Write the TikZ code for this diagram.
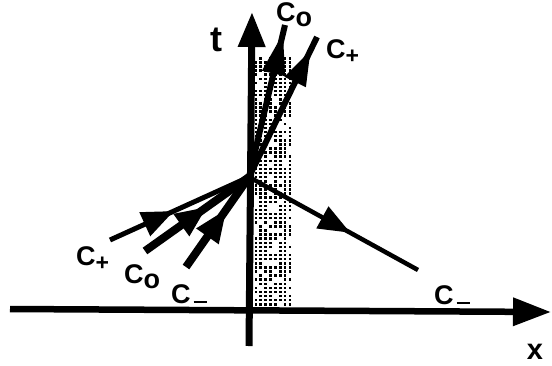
\documentclass[tikz,border=0pt]{standalone}
\usepackage{fontspec}
\setmainfont{Liberation Sans}
\usetikzlibrary{arrows.meta,decorations.markings}
\begin{document}
\begin{tikzpicture}[x=1pt,y=-1pt,
  head/.style n args={3}{postaction={decorate,decoration={markings,
     mark=at position #1 with {\arrow{Triangle[length=#2pt,width=#3pt]}}}}},
  lab/.style={font=\fontsize{27}{30}\bfseries\selectfont, inner sep=0pt, anchor=base west},
  dot/.style={fill=black},
  axis/.style={line width=6.5pt}]
\useasboundingbox (0,0) rectangle (552,365);
% shaded strip
\pgfmathsetseed{7}
\foreach \i in {0,...,7}
  \foreach \j in {0,...,60}{
    \pgfmathsetmacro{\r}{rnd}
    \ifdim\r pt<0.8pt
      \fill[dot] (254.5+4.9*\i, 57+4.1*\j) rectangle ++(2.5,2.5);
    \fi
  }
% axes
\coordinate (xs) at (10,309);
\coordinate (xe) at (551,312);
\coordinate (tb) at (249,346);
\coordinate (tt) at (252,12);
\draw[axis, -{Triangle[length=38pt,width=27pt]}] (xs) -- (xe);
\draw[axis, line width=7pt, -{Triangle[length=35pt,width=26pt]}] (tb) -- (tt);
% origin and ray ends
\coordinate (O) at (249,177);
\coordinate (c0top) at (285,25);
\coordinate (cptop) at (317,37);
\coordinate (cpleft) at (110,240);
\coordinate (c0left) at (145,251);
\coordinate (cmleft) at (186,267);
\coordinate (cmright) at (418,270);
\draw[line width=6pt, head={0.95}{42}{22}] (O) -- (c0top);
\draw[line width=6pt, head={0.91}{36}{22}] (O) -- (cptop);
\draw[line width=5pt, head={0.46}{32}{25}] (cpleft) -- (O);
\draw[line width=8pt, head={0.6}{32}{25}] (c0left) -- (O);
\draw[line width=8pt, head={0.65}{34}{25}] (cmleft) -- (O);
\draw[line width=4.5pt, head={0.6}{32}{24}] (O) -- (cmright);
% labels
\node[lab, font=\fontsize{36}{38}\bfseries\selectfont] (lt) at (210,51) {t};
\node[lab] (l0top) at (276,21) {C\raisebox{-5pt}{o}};
\node[lab] (lptop) at (326,58) {C\raisebox{-5pt}{\fontsize{23}{25}\selectfont +}};
\node[lab] (lpleft) at (76,265) {C\raisebox{-5pt}{\fontsize{23}{25}\selectfont +}};
\node[lab] (l0left) at (124,283) {C\raisebox{-5pt}{o}};
\node[lab] (lmleft) at (171,303) {C\hspace{3pt}\rule{13pt}{2.5pt}};
\node[lab] (lmright) at (434,304) {C\hspace{3pt}\rule{13pt}{2.5pt}};
\node[lab, font=\fontsize{29}{31}\bfseries\selectfont, anchor=center] (lx) at (535,352) {x};
\end{tikzpicture}
\end{document}
